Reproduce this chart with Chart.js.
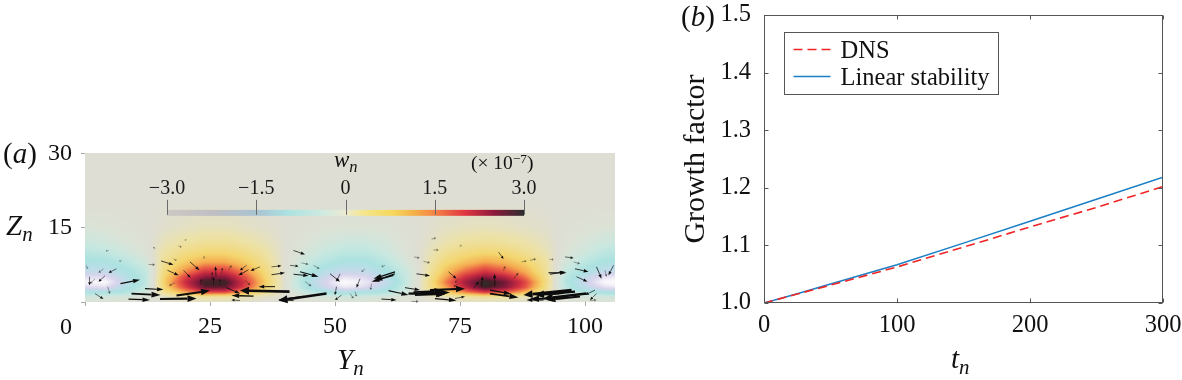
<!DOCTYPE html>
<html>
<head>
<meta charset="utf-8">
<script src="https://cdn.jsdelivr.net/npm/chart.js@4"></script>
<style>
  html, body { margin:0; padding:0; background:#fff; }
  #page { position:relative; width:1182px; height:380px; overflow:hidden; font-family:"Liberation Serif",serif; color:#111; }
  canvas { position:absolute; }
  .lbl { position:absolute; white-space:nowrap; line-height:1; }
  .lbl i sub { font-size:0.72em; vertical-align:-0.28em; line-height:0; }
  .lbl sup { font-size:0.68em; vertical-align:0.45em; line-height:0; }
</style>
</head>
<body>
<div id="page">
  <canvas id="fieldChart" style="left:0;top:130px;width:650px;height:250px"></canvas>
  <canvas id="growthChart" style="left:670px;top:-20px;width:540px;height:400px"></canvas>
  <div class="lbl" style="left:3px;top:139px;font-size:29px">(<i>a</i>)</div>
  <div class="lbl" style="left:6px;top:211px;font-size:29px"><i>Z<sub>n</sub></i></div>
  <div class="lbl" style="left:60px;top:314px;font-size:24px">0</div>
  <div class="lbl" style="left:337px;top:345px;font-size:29px"><i>Y<sub>n</sub></i></div>
  <div class="lbl" style="left:334px;top:148px;font-size:23px"><i>w<sub>n</sub></i></div>
  <div class="lbl" style="left:471px;top:153px;font-size:19.5px">(× 10<sup>−7</sup>)</div>
  <div class="lbl" style="left:681px;top:2px;font-size:29px">(<i>b</i>)</div>
  <div class="lbl" style="left:951px;top:344px;font-size:29px"><i>t<sub>n</sub></i></div>
</div>
<script>
// panel (b) growth factor curves
const timeDns = [0, 25, 50, 100, 150, 200, 250, 300];
const growthDns = [1.0, 1.0155, 1.031, 1.0625, 1.097, 1.132, 1.166, 1.202];
const timeLinear = [0, 25, 50, 100, 150, 200, 250, 300];
const growthLinear = [1.0, 1.016, 1.033, 1.0665, 1.104, 1.142, 1.18, 1.2185];
const timeTicks = [0, 100, 200, 300];
const growthTicks = [1.0, 1.1, 1.2, 1.3, 1.4, 1.5];
const seriesNames = ['DNS', 'Linear stability'];

// panel (a) axes
const spanTicks = [0, 25, 50, 75, 100];
const heightTicks = [0, 15, 30];

// panel (a) wn field, one row per height, columns every 4 Yn
const fieldY = [0, 4, 8, 12, 16, 20, 24, 28, 32, 36, 40, 44, 48, 52, 56, 60, 64, 68, 72, 76, 80, 84, 88, 92, 96, 100, 104, 108];
const fieldZ = [0, 1, 2, 3, 4, 5, 6, 8, 10, 12, 15, 20];
const wRow0 = [-.15,-.15,-.1,-.05,0,.05,.1,.1,.05,0,0,-.05,-.1,-.15,-.15,-.1,-.05,0,.05,.1,.1,.1,.05,0,-.05,-.1,-.15,-.15];
const wRow1 = [-.3,-.3,-.25,-.15,.1,.2,.35,.35,.2,.1,0,-.15,-.25,-.35,-.3,-.25,-.12,.05,.15,.3,.4,.35,.2,.05,-.15,-.25,-.3,-.35];
const wRow2 = [-.9,-1,-.8,-.4,.5,1.2,1.8,1.8,1.2,.5,0,-.5,-.9,-1.1,-1,-.8,-.4,.2,.8,1.4,1.9,1.7,1.1,.4,-.4,-.8,-1,-1.1];
const wRow3 = [-1.8,-1.9,-1.1,-.6,.8,1.8,2.7,2.7,1.8,.8,0,-.8,-1.5,-2.1,-1.8,-1.2,-.5,.3,1.2,2.1,2.9,2.5,1.7,.6,-.6,-1.3,-1.9,-2.2];
const wRow4 = [-2.3,-2.4,-1.3,-.7,.9,2,2.9,2.9,1.9,.9,0,-.9,-1.7,-2.5,-2.1,-1.4,-.6,.3,1.4,2.3,3,2.6,1.8,.7,-.7,-1.5,-2.4,-2.7];
const wRow5 = [-1.9,-1.9,-1.2,-.65,.8,1.8,2.5,2.5,1.7,.8,0,-.8,-1.5,-2,-1.8,-1.2,-.55,.25,1.2,2,2.5,2.2,1.5,.6,-.6,-1.3,-2,-2.2];
const wRow6 = [-1.4,-1.4,-1,-.6,.7,1.4,2,2,1.4,.7,0,-.7,-1.2,-1.5,-1.4,-1,-.5,.2,1,1.6,2,1.7,1.2,.5,-.5,-1,-1.4,-1.5];
const wRow8 = [-1,-.95,-.7,-.35,.5,.9,1.2,1.2,.9,.5,0,-.45,-.75,-.95,-.95,-.7,-.3,.15,.7,1,1.25,1.1,.8,.4,-.3,-.65,-.95,-1];
const wRow10 = [-.7,-.6,-.4,-.15,.35,.6,.75,.75,.6,.35,0,-.25,-.5,-.65,-.65,-.45,-.15,.1,.45,.65,.75,.7,.5,.25,-.15,-.4,-.65,-.7];
const wRow12 = [-.45,-.38,-.2,-.08,.2,.35,.45,.45,.35,.2,0,-.15,-.32,-.42,-.42,-.3,-.1,.05,.25,.4,.45,.4,.3,.15,-.08,-.25,-.42,-.45];
const wRow15 = [-.2,-.15,-.08,-.03,.06,.12,.18,.18,.12,.06,0,-.06,-.12,-.16,-.16,-.12,-.04,.02,.1,.15,.18,.15,.1,.05,-.04,-.1,-.16,-.2];
const wRow20 = [0,0,0,0,0,0,0,0,0,0,0,0,0,0,0,0,0,0,0,0,0,0,0,0,0,0,0,0];
const fieldRows = [wRow0, wRow1, wRow2, wRow3, wRow4, wRow5, wRow6, wRow8, wRow10, wRow12, wRow15, wRow20];

// colour key
const keyTicks = [-3, -1.5, 0, 1.5, 3];
const keyTickLabels = ['−3.0', '−1.5', '0', '1.5', '3.0'];

// panel (a) velocity arrows, tail and tip in Yn, Zn
const arrowTailY = [9.3,8.7,12,15,18.3,40.9,38,33.7,31,28.3,43.7,48.3,41.7,16.5,15.2,19.7,18,21,32,32.7,35,32.3,37.3,37.3,41,41.7,43,43.3,45.7,44,26.2,25.3,27.3,23,25.7,27,28.7,23.7,0.3,0.9,2,3.7,6.3,4,7.1,4.5,2,12.7,17.7,4.7,7.3,18.7,20,14,41.7,
  60.7,64,64.7,65.7,69,59.3,65.3,70,74,79.3,82,77.7,74.7,72.7,85.7,83.7,81,81,97.3,100.3,91.7,99,95.7,92.7,93,98,97.7,98.3,96,102,102.3,101,104,105.7,102.3,62,62,61.7,60,56,55,57.3,50.3,49,51,53,54,51.3,66.3,67.7,65.8,87.3,89,82.7,69.7,74.9,92.9,69.3,74.7,
  66,67,96,98];
const arrowTailZ = [1.7,0.6,2.7,0.6,1.3,2.1,3.1,1.2,0.3,2.9,1.1,1.7,0.3,6.4,8.3,6.4,3.9,8.1,4.4,6.5,7.1,7.4,5.5,7.1,7.4,5.6,6.1,7.9,7.4,4.1,5.1,4.7,5.7,3.4,3.4,3.4,6.4,8.7,7.4,5.1,4.7,6.7,6.7,5.3,3.7,3.1,1.7,7.6,8.7,10.4,8.4,11.3,12.7,10.7,10.4,
  2.3,2.9,1.7,2,2.4,0.6,0.1,0.7,0.7,3.1,3.1,2.7,3.7,6.1,4.7,6.3,2.4,1.7,2.4,1.7,0.4,1.1,1.7,5.9,5.6,6.7,8.1,5.1,9.1,2.4,1.7,0.3,6.4,7.4,7.1,6.1,5.7,5.4,7.4,6.7,4.7,3.7,3.1,5.7,5.7,1.7,2.1,1.4,5.7,8.2,9.1,8.1,8.4,10.1,10.5,11.3,8.6,12.7,4.7,
  1.4,1.9,0.8,2.1];
const arrowTipY = [15.1,13,15.7,22.3,25,31,34.7,29.3,29.3,31,38.7,38.7,38.7,18.7,17.7,21.1,16.8,22.9,33,30.7,33.1,31,40,39.3,42.7,44.7,46.7,44.7,46.9,45.3,26.1,25.5,27.5,23.3,25.7,27,29.3,23.9,0.5,0.9,1,2.7,4.7,2.7,11,5,3.7,14,18.3,4.2,6.9,19.3,20.2,13.7,44,
  64.7,67,72.3,71.7,76,62.3,66.7,74.3,76,79.5,81.9,78.7,73.7,74.3,86.7,84,85.3,86.7,87.7,91.7,88.3,92.3,92.3,96.3,96,100.7,99,100.5,97.7,100,101,102.3,104.3,104.7,103.3,57.7,58,57.3,59.3,55.3,54.3,57.1,50,51,50.3,53.7,54.3,50,69,69,66.9,88.3,90.2,83.7,70.7,75.3,93.7,70.2,74,
  72,73,89,90];
const arrowTipZ = [1.4,0.4,2.5,0.7,2.3,2.3,3.1,1.3,0.4,1.7,0.4,0.3,0.5,5.4,7.5,4.9,3.3,6.4,3.4,5.4,6.3,6.4,5.9,7.3,7.2,5.3,5.1,7.6,6.7,3.2,7.2,6.1,6.9,4.7,5.1,4.7,7.4,9.2,6.7,3.4,3.7,5.9,5.9,4.1,4.5,1.6,0.6,7.5,8.4,10.3,8.2,11.1,12.4,11.1,9.6,
  1.4,2.4,1.7,2.3,2.7,0.4,0.1,0.3,1.1,5.2,5.7,4.1,3.1,4.7,5.9,7.2,1.6,0.9,1.4,0.7,0.4,0.4,1.4,5.9,6.1,6.1,7.7,4.1,8.9,1.4,0.4,0.4,5.1,5.4,4.7,4.7,4.3,4.1,7.1,6.1,2.9,2.4,1.4,4.1,4.1,0.7,1.1,0.4,5.3,7.9,8.9,8.3,8.7,8.7,10.5,11.4,8.6,12.9,3.9,
  1.6,1.9,0.6,1.4];

// colours for the field and for the key, [value, r, g, b]
const fieldColours = [
  [-3,255,255,255],[-2.3,248,246,250],[-1.7,216,212,236],[-1.2,186,222,232],[-.9,172,226,224],[-.5,200,232,224],[-.15,220,226,214],
  [0,222,222,212],[.3,236,226,170],[.8,244,214,110],[1.2,245,170,80],[1.6,235,95,70],[2,205,45,65],[2.5,135,25,60],[2.8,70,30,40],[3,45,45,40]
];
const keyColours = [
  [-3,205,200,195],[-2.2,190,190,195],[-1.5,170,195,210],[-1,170,225,225],[-.4,205,235,225],[0,235,235,210],[.3,245,230,140],
  [.8,245,215,90],[1.2,245,170,70],[1.5,245,130,70],[2,225,55,65],[2.5,140,25,60],[3,45,45,45]
];

const serif = '"Liberation Serif", serif';

function colourAt(table, v) {
  if (v <= table[0][0]) return table[0].slice(1);
  for (let i = 1; i < table.length; i++) {
    if (v <= table[i][0]) {
      const a = table[i - 1], b = table[i], t = (v - a[0]) / (b[0] - a[0]);
      return [a[1] + (b[1] - a[1]) * t, a[2] + (b[2] - a[2]) * t, a[3] + (b[3] - a[3]) * t];
    }
  }
  return table[table.length - 1].slice(1);
}

function bracket(list, v) {
  let i = 0;
  while (i < list.length - 2 && v > list[i + 1]) i++;
  const t = (v - list[i]) / (list[i + 1] - list[i]);
  return [i, Math.max(0, Math.min(1, t))];
}

function fieldAt(y, z) {
  const [c, tc] = bracket(fieldY, y);
  const [r, tr] = bracket(fieldZ, z);
  const low = fieldRows[r][c] * (1 - tc) + fieldRows[r][c + 1] * tc;
  const high = fieldRows[r + 1][c] * (1 - tc) + fieldRows[r + 1][c + 1] * tc;
  return low * (1 - tr) + high * tr;
}

// wn field painted under everything, read through the chart scales
const fieldPlugin = {
  id: 'fieldPlugin',
  beforeDatasetsDraw(chart) {
    const { ctx, chartArea: a, scales } = chart;
    const w = Math.round(a.right - a.left), h = Math.round(a.bottom - a.top);
    const off = document.createElement('canvas');
    off.width = w; off.height = h;
    const oc = off.getContext('2d');
    const img = oc.createImageData(w, h);
    for (let j = 0; j < h; j++) {
      const z = scales.y.getValueForPixel(a.top + j + 0.5);
      for (let i = 0; i < w; i++) {
        const y = scales.x.getValueForPixel(a.left + i + 0.5);
        const col = colourAt(fieldColours, fieldAt(y, z));
        const k = (j * w + i) * 4;
        img.data[k] = col[0]; img.data[k + 1] = col[1]; img.data[k + 2] = col[2]; img.data[k + 3] = 255;
      }
    }
    oc.putImageData(img, 0, 0);
    ctx.save();
    ctx.drawImage(off, a.left, a.top);
    ctx.restore();
  }
};

// colour key sitting inside the field
const keyPlugin = {
  id: 'keyPlugin',
  afterDatasetsDraw(chart) {
    const { ctx, scales } = chart;
    const left = scales.x.getPixelForValue(16.4), right = scales.x.getPixelForValue(87.8);
    const top = scales.y.getPixelForValue(18.6), bottom = scales.y.getPixelForValue(17.4);
    for (let x = Math.round(left); x < right; x++) {
      const col = colourAt(keyColours, -3 + (x + 0.5 - left) / (right - left) * 6);
      ctx.fillStyle = `rgb(${col[0]},${col[1]},${col[2]})`;
      ctx.fillRect(x, top, 1, bottom - top);
    }
    ctx.font = '20px ' + serif;
    ctx.textAlign = 'center';
    ctx.textBaseline = 'middle';
    keyTicks.forEach((v, i) => {
      const x = left + (v + 3) / 6 * (right - left);
      ctx.strokeStyle = '#6a6a6a';
      ctx.lineWidth = 1;
      ctx.beginPath();
      ctx.moveTo(Math.round(x) + 0.5, top - 10);
      ctx.lineTo(Math.round(x) + 0.5, bottom - 1);
      ctx.stroke();
      ctx.fillStyle = '#1a1a1a';
      ctx.fillText(keyTickLabels[i], x, top - 21);
    });
  }
};

// quiver arrows, thickness grows with length
const arrowPlugin = {
  id: 'arrowPlugin',
  afterDatasetsDraw(chart) {
    const { ctx, scales } = chart;
    arrowTailY.forEach((ty, i) => {
      const x0 = scales.x.getPixelForValue(ty), y0 = scales.y.getPixelForValue(arrowTailZ[i]);
      const x1 = scales.x.getPixelForValue(arrowTipY[i]), y1 = scales.y.getPixelForValue(arrowTipZ[i]);
      const len = Math.hypot(x1 - x0, y1 - y0);
      const ux = (x1 - x0) / len, uy = (y1 - y0) / len;
      const shaft = Math.max(0.6, Math.min(2.6, len * 0.06));
      const headLen = Math.min(len * 0.35, 9), headW = shaft * 1.3 + 0.6;
      ctx.save();
      ctx.globalAlpha = len < 8 ? 0.6 : 1;
      ctx.strokeStyle = ctx.fillStyle = '#0c0c0c';
      ctx.lineWidth = shaft;
      ctx.beginPath();
      ctx.moveTo(x0, y0);
      ctx.lineTo(x1 - ux * headLen, y1 - uy * headLen);
      ctx.stroke();
      ctx.beginPath();
      ctx.moveTo(x1, y1);
      ctx.lineTo(x1 - ux * headLen - uy * headW, y1 - uy * headLen + ux * headW);
      ctx.lineTo(x1 - ux * headLen + uy * headW, y1 - uy * headLen - ux * headW);
      ctx.closePath();
      ctx.fill();
      ctx.restore();
    });
  }
};

// boxed axes with inward ticks on all four sides, and the legend box
const framePlugin = {
  id: 'framePlugin',
  afterDatasetsDraw(chart) {
    const { ctx, chartArea: a, scales } = chart;
    const l = Math.round(a.left) + 0.5, r = Math.round(a.right) - 0.5;
    const t = Math.round(a.top) + 0.5, b = Math.round(a.bottom) - 0.5;
    ctx.save();
    ctx.strokeStyle = '#555';
    ctx.lineWidth = 1;
    ctx.strokeRect(l, t, r - l, b - t);
    ctx.beginPath();
    timeTicks.forEach(v => {
      const x = Math.round(scales.x.getPixelForValue(v)) + 0.5;
      ctx.moveTo(x, b); ctx.lineTo(x, b - 4);
      ctx.moveTo(x, t); ctx.lineTo(x, t + 4);
    });
    growthTicks.forEach(v => {
      const y = Math.round(scales.y.getPixelForValue(v)) + 0.5;
      ctx.moveTo(l, y); ctx.lineTo(l + 4, y);
      ctx.moveTo(r, y); ctx.lineTo(r - 4, y);
    });
    ctx.stroke();

    // legend
    const bx = l + 20, by = t + 17, bw = 214, bh = 62;
    ctx.fillStyle = '#fff';
    ctx.fillRect(bx, by, bw, bh);
    ctx.strokeRect(bx, by, bw, bh);
    ctx.font = '24.5px ' + serif;
    ctx.textAlign = 'left';
    ctx.textBaseline = 'alphabetic';
    chart.data.datasets.forEach((ds, i) => {
      const rowY = by + 17 + i * 27;
      ctx.strokeStyle = ds.borderColor;
      ctx.lineWidth = ds.borderWidth;
      ctx.setLineDash(ds.borderDash || []);
      ctx.beginPath();
      ctx.moveTo(bx + 9, rowY);
      ctx.lineTo(bx + 46, rowY);
      ctx.stroke();
      ctx.setLineDash([]);
      ctx.fillStyle = '#111';
      ctx.fillText(ds.label, bx + 56, rowY + 8);
    });
    ctx.restore();
  }
};

new Chart(document.getElementById('fieldChart'), {
  type: 'scatter',
  data: {
    datasets: [{
      label: 'arrows',
      data: arrowTailY.map((y, i) => ({ x: y, y: arrowTailZ[i] })),
      pointRadius: 0
    }]
  },
  options: {
    responsive: false,
    animation: false,
    layout: { padding: { left: 0, right: 35, top: 22, bottom: 0 } },
    plugins: { legend: { display: false }, tooltip: { enabled: false } },
    scales: {
      x: {
        type: 'linear', min: 0, max: 106,
        afterBuildTicks(s) { s.ticks = spanTicks.map(v => ({ value: v })); },
        afterFit(s) { s.height = 78; },
        grid: { drawOnChartArea: false, color: '#a8a8a8', tickLength: 4 },
        border: { display: false },
        ticks: {
          color: '#111', padding: 6, maxRotation: 0, autoSkip: false,
          font: { family: serif, size: 24 },
          callback: v => (v === 0 ? '' : v)
        }
      },
      y: {
        type: 'linear', min: 0, max: 30,
        afterBuildTicks(s) { s.ticks = heightTicks.map(v => ({ value: v })); },
        afterFit(s) { s.width = 85; },
        grid: { drawOnChartArea: false, color: '#a8a8a8', tickLength: 4 },
        border: { display: false },
        ticks: {
          color: '#111', padding: 9, autoSkip: false,
          font: { family: serif, size: 24 },
          callback: v => (v === 0 ? '' : v)
        }
      }
    }
  },
  plugins: [fieldPlugin, keyPlugin, arrowPlugin]
});

new Chart(document.getElementById('growthChart'), {
  type: 'scatter',
  data: {
    datasets: [
      {
        label: seriesNames[0],
        data: timeDns.map((t, i) => ({ x: t, y: growthDns[i] })),
        showLine: true, pointRadius: 0,
        borderColor: '#f02525', borderWidth: 1.6, borderDash: [9, 5]
      },
      {
        label: seriesNames[1],
        data: timeLinear.map((t, i) => ({ x: t, y: growthLinear[i] })),
        showLine: true, pointRadius: 0,
        borderColor: '#1b7fc4', borderWidth: 1.5
      }
    ]
  },
  options: {
    responsive: false,
    animation: false,
    layout: { padding: { left: 0, right: 47, top: 35, bottom: 0 } },
    plugins: { legend: { display: false }, tooltip: { enabled: false } },
    scales: {
      x: {
        type: 'linear', min: 0, max: 300,
        afterBuildTicks(s) { s.ticks = timeTicks.map(v => ({ value: v })); },
        afterFit(s) { s.height = 77; },
        grid: { display: false },
        border: { display: false },
        ticks: {
          color: '#111', padding: 0, maxRotation: 0, autoSkip: false,
          font: { family: serif, size: 24.5 }
        }
      },
      y: {
        type: 'linear', min: 1, max: 1.5,
        afterBuildTicks(s) { s.ticks = growthTicks.map(v => ({ value: v })); },
        afterFit(s) { s.width = 94; },
        grid: { display: false },
        border: { display: false },
        title: {
          display: true, text: 'Growth factor', color: '#111',
          font: { family: serif, size: 30 }, padding: { top: 8, bottom: 0 }
        },
        ticks: {
          color: '#111', padding: 5, autoSkip: false,
          font: { family: serif, size: 24.5 },
          callback: v => v.toFixed(1)
        }
      }
    }
  },
  plugins: [framePlugin]
});
</script>
</body>
</html>
